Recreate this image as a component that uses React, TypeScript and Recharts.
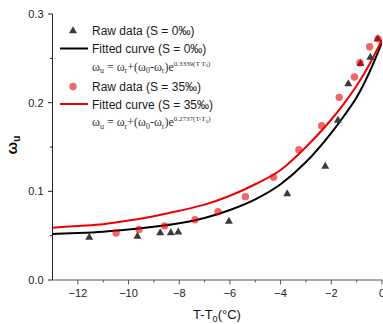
import React from 'react';
import { ComposedChart, Line, Scatter, XAxis, YAxis } from 'recharts';

// ---- data ----
const xTicks = [-12, -11, -10, -9, -8, -7, -6, -5, -4, -3, -2, -1, 0];
const yTicks = [0, 0.05, 0.1, 0.15, 0.2, 0.25, 0.3];
const yTickLabels = ['0.0', '', '0.1', '', '0.2', '', '0.3'];

// Raw data S = 0‰ (triangles)
const raw0X = [-11.55, -9.65, -8.75, -8.33, -8.04, -6.04, -3.74, -2.24, -1.74, -1.33, -0.85, -0.46, -0.17];
const raw0Y = [0.049, 0.05, 0.054, 0.054, 0.055, 0.067, 0.098, 0.129, 0.181, 0.222, 0.245, 0.252, 0.273];

// Raw data S = 35‰ (dots)
const raw35X = [-10.49, -9.59, -8.58, -7.38, -6.47, -5.39, -4.28, -3.28, -2.38, -1.69, -1.09, -0.87, -0.49, -0.16];
const raw35Y = [0.053, 0.057, 0.061, 0.068, 0.077, 0.094, 0.116, 0.147, 0.174, 0.206, 0.229, 0.245, 0.263, 0.272];

// Fitted curves
const fitX = [-13, -12, -11, -10, -9, -8, -7, -6, -5, -4, -3, -2, -1.5, -1, -0.5, 0];
const fit0Y = [0.052, 0.053, 0.0545, 0.057, 0.06, 0.064, 0.07, 0.079, 0.091, 0.108, 0.133, 0.166, 0.185, 0.206, 0.234, 0.268];
const fit35Y = [0.059, 0.061, 0.063, 0.067, 0.072, 0.078, 0.085, 0.095, 0.108, 0.124, 0.15, 0.181, 0.199, 0.219, 0.243, 0.271];

const zip = (xs: number[], ys: number[]) => xs.map((x, i) => ({ x, y: ys[i] }));
const raw0 = zip(raw0X, raw0Y);
const raw35 = zip(raw35X, raw35Y);
const fit0 = zip(fitX, fit0Y);
const fit35 = zip(fitX, fit35Y);

const SANS = '"Liberation Sans", Arial, sans-serif';
const SERIF = '"Liberation Serif", "Times New Roman", serif';

const fmtX = (v: number) => (v < 0 ? '\u2212' + Math.abs(v) : String(v));

const XTick = (props: any) => {
  const { x, y, payload } = props;
  const v = payload.value as number;
  const major = Math.abs(v % 2) < 1e-9;
  return (
    <g>
      <line x1={x} x2={x} y1={y} y2={y + (major ? 4.5 : 2.5)} stroke="#555" strokeWidth={1} />
      {major && (
        <text x={x} y={y + 16.5} textAnchor="middle" fontSize={11} fill="#222" fontFamily={SANS}>
          {fmtX(v)}
        </text>
      )}
    </g>
  );
};

const YTick = (props: any) => {
  const { x, y, payload, index } = props;
  const label = yTickLabels[index] ?? '';
  const major = label !== '';
  return (
    <g>
      <line x1={x - (major ? 4.5 : 2.5)} x2={x} y1={y} y2={y} stroke="#222" strokeWidth={1} />
      {major && (
        <text x={x - 9} y={y + 4} textAnchor="end" fontSize={11} fill="#222" fontFamily={SANS}>
          {label}
        </text>
      )}
    </g>
  );
};

const Tri = (p: any) => (
  <polygon
    points={`${p.cx},${p.cy - 3.8} ${p.cx - 4},${p.cy + 3.2} ${p.cx + 4},${p.cy + 3.2}`}
    fill="#3a3a3a"
  />
);

const Dot = (p: any) => <circle cx={p.cx} cy={p.cy} r={3.7} fill="#e80000" fillOpacity={0.6} />;

const Formula = ({ x, y, k, sep }: { x: number; y: number; k: string; sep: string }) => (
  <text x={x} y={y} fontFamily={SERIF} fontSize={12} fill="#333">
    ω<tspan fontSize={8} dy={2.5}>u</tspan>
    <tspan dy={-2.5}> = ω</tspan>
    <tspan fontSize={8} dy={2.5}>r</tspan>
    <tspan dy={-2.5}>+(ω</tspan>
    <tspan fontSize={8} dy={2.5}>0</tspan>
    <tspan dy={-2.5}>-ω</tspan>
    <tspan fontSize={8} dy={2.5}>r</tspan>
    <tspan dy={-2.5}>)e</tspan>
    <tspan fontSize={7} dy={-5}>{k + '(T' + sep + 'T'}</tspan>
    <tspan fontSize={5} dy={1.5}>0</tspan>
    <tspan fontSize={7} dy={-1.5}>)</tspan>
  </text>
);

const Overlay = () => (
  <svg width={383} height={324} style={{ position: 'absolute', left: 0, top: 0, pointerEvents: 'none' }}>
    {/* legend */}
    <Tri cx={73} cy={30} />
    <text x={92} y={34.5} fontSize={12} fill="#1a1a1a" fontFamily={SANS}>Raw data (S = 0‰)</text>
    <line x1={60} x2={88} y1={48.5} y2={48.5} stroke="#000" strokeWidth={2} />
    <text x={92} y={53} fontSize={12} fill="#1a1a1a" fontFamily={SANS}>Fitted curve (S = 0‰)</text>
    <Formula x={92} y={70.5} k="0.3339" sep=" " />
    <Dot cx={73} cy={86.5} />
    <text x={92} y={91} fontSize={12} fill="#1a1a1a" fontFamily={SANS}>Raw data (S = 35‰)</text>
    <line x1={60} x2={88} y1={104} y2={104} stroke="#ee0000" strokeWidth={2} />
    <text x={92} y={108.5} fontSize={12} fill="#1a1a1a" fontFamily={SANS}>Fitted curve (S = 35‰)</text>
    <Formula x={92} y={126} k="0.2737" sep="-" />
    {/* axis titles */}
    <text x={217} y={319} textAnchor="middle" fontSize={13} fill="#111" fontFamily={SANS}>
      T-T<tspan fontSize={9} dy={3}>0</tspan>
      <tspan dy={-3}>(°C)</tspan>
    </text>
    <text
      x={16.5}
      y={145}
      textAnchor="middle"
      fontSize={15}
      fontWeight="bold"
      fill="#111"
      fontFamily={SANS}
      transform="rotate(-90, 16.5, 145)"
    >
      ω<tspan fontSize={10} dy={3}>u</tspan>
    </text>
  </svg>
);

export default function App() {
  return (
    <div style={{ position: 'absolute', left: 0, top: 0, width: 383, height: 324, background: '#fff' }}>
      <ComposedChart width={383} height={324} margin={{ top: 14, right: 1, bottom: 0, left: 0 }}>
        <XAxis
          dataKey="x"
          type="number"
          domain={[-13, 0]}
          ticks={xTicks}
          interval={0}
          allowDataOverflow
          height={44}
          tickSize={0}
          tickMargin={0}
          tickLine={false}
          axisLine={{ stroke: '#555' }}
          tick={<XTick />}
        />
        <XAxis
          xAxisId="top"
          orientation="top"
          type="number"
          domain={[-13, 0]}
          allowDataOverflow
          height={0}
          tick={false}
          tickLine={false}
          axisLine={{ stroke: '#555' }}
        />
        <YAxis
          dataKey="y"
          type="number"
          domain={[0, 0.3]}
          ticks={yTicks}
          interval={0}
          allowDataOverflow
          width={52.5}
          tickSize={0}
          tickMargin={0}
          tickLine={false}
          axisLine={{ stroke: '#222' }}
          tick={<YTick />}
        />
        <YAxis
          yAxisId="right"
          orientation="right"
          type="number"
          domain={[0, 0.3]}
          allowDataOverflow
          width={0}
          tick={false}
          tickLine={false}
          axisLine={{ stroke: '#555' }}
        />
        <Line data={fit0} dataKey="y" type="monotone" stroke="#000" strokeWidth={2} dot={false} isAnimationActive={false} />
        <Line data={fit35} dataKey="y" type="monotone" stroke="#ee0000" strokeWidth={2} dot={false} isAnimationActive={false} />
        <Scatter data={raw0} dataKey="y" shape={Tri} isAnimationActive={false} />
        <Scatter data={raw35} dataKey="y" shape={Dot} isAnimationActive={false} />
      </ComposedChart>
      <Overlay />
    </div>
  );
}
